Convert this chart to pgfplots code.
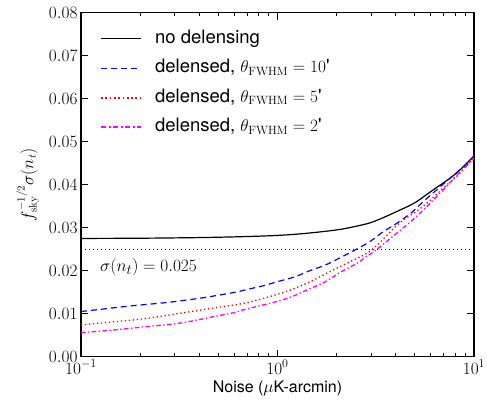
\documentclass[border=0pt]{standalone}
\usepackage[no-math]{fontspec}
\usepackage{pgfplots}
\pgfplotsset{compat=1.18}
\newfontfamily\hv{TeX Gyre Heros}
\definecolor{mplred}{rgb}{1,0,0}
\definecolor{mplmag}{rgb}{1,0,1}
\definecolor{mplblue}{rgb}{0,0,1}
\tikzset{
  sblack/.style={draw=black, line width=1.2pt},
  sblue/.style={draw=mplblue, line width=1.2pt, dash pattern=on 6pt off 4pt},
  sred/.style={draw=mplred, line width=1.3pt, dash pattern=on 1.3pt off 2.7pt},
  smag/.style={draw=mplmag, line width=1.3pt, dash pattern=on 4.5pt off 2.5pt on 1.3pt off 2.5pt},
}
\begin{document}
\begin{tikzpicture}
\begin{axis}[
  scale only axis, width=393pt, height=344pt,
  xmode=log, xmin=0.1, xmax=10, ymin=0, ymax=0.08,
  xtick={0.1,1,10},
  ytick={0,0.01,0.02,0.03,0.04,0.05,0.06,0.07,0.08},
  scaled y ticks=false,
  yticklabel style={/pgf/number format/fixed,/pgf/number format/fixed zerofill,/pgf/number format/precision=2},
  tick align=inside, major tick length=7pt, minor tick length=3.5pt,
  tick style={black, line width=0.8pt},
  axis line style={line width=1.2pt},
  ticklabel style={font=\fontsize{18}{20}\selectfont},
  xlabel={\hv Noise ($\mu$K-arcmin)},
  xlabel style={font=\fontsize{16}{18}\selectfont, at={(axis description cs:0.5,-0.091)}, anchor=center},
  ylabel={$f_{\mathrm{sky}}^{-1/2}\sigma(n_t)$},
  ylabel style={font=\fontsize{16}{18}\selectfont, at={(axis description cs:-0.136,0.5)}, anchor=center},
  legend style={draw=none, fill=none, at={(axis description cs:0.040,0.955)}, anchor=north west,
    font=\hv\fontsize{18.5}{20}\selectfont, column sep=13pt, row sep=12.5pt,
    nodes={inner sep=0pt, text height=13pt, text depth=4pt}},
  legend cell align=left,
]
\coordinate (SW) at (rel axis cs:0,0);
\coordinate (NE) at (rel axis cs:1,1);
\addplot[sblack, smooth, legend image code/.code={\draw[sblack] (0pt,0pt) -- (40pt,0pt);}] coordinates {
(0.1,0.0275) (0.2,0.02755) (0.4,0.0277) (0.644,0.0279) (1,0.0282) (1.41,0.0287) (2.08,0.0296) (2.84,0.0309) (3.32,0.0320) (4.2,0.0341) (5,0.0358) (6.2,0.0388) (7.55,0.0415) (8.6,0.0437) (10,0.0467)};
\addlegendentry{no delensing}
\addplot[sblue, smooth, legend image code/.code={\draw[sblue] (0pt,0pt) -- (40pt,0pt);}] coordinates {
(0.1,0.0105) (0.125,0.0110) (0.178,0.0118) (0.273,0.0126) (0.403,0.0136) (0.596,0.0149) (0.71,0.0157) (0.847,0.0165) (1.01,0.0175) (1.23,0.0186) (1.46,0.0200) (1.75,0.0213) (2.08,0.0230) (2.48,0.0248) (2.96,0.0268) (3.41,0.0289) (4.01,0.0309) (4.78,0.0334) (5.41,0.0357) (6.2,0.0381) (7,0.0402) (8,0.0425) (9,0.0445) (10,0.0466)};
\addlegendentry{delensed, $\theta_{\mathrm{FWHM}}=10$'}
\addplot[sred, smooth, legend image code/.code={\draw[draw=mplred, line width=1.7pt, dash pattern=on 1.7pt off 2.6pt] (0pt,0pt) -- (40pt,0pt);}] coordinates {
(0.1,0.0074) (0.146,0.0081) (0.216,0.0089) (0.319,0.0101) (0.471,0.0113) (0.67,0.0124) (0.916,0.0140) (1.16,0.0155) (1.46,0.0174) (1.85,0.0198) (2.34,0.0221) (2.84,0.0240) (3.22,0.0260) (4.2,0.0312) (5.1,0.0338) (5.86,0.0360) (7,0.0393) (8.16,0.0419) (9,0.0440) (10,0.0463)};
\addlegendentry{delensed, $\theta_{\mathrm{FWHM}}=5$'}
\addplot[smag, smooth, legend image code/.code={\draw[draw=mplmag, line width=2.2pt, dash pattern=on 5pt off 2.5pt on 2pt off 2.5pt] (0pt,0pt) -- (40pt,0pt);}] coordinates {
(0.1,0.0056) (0.146,0.0062) (0.216,0.0070) (0.319,0.0078) (0.471,0.0093) (0.608,0.0103) (0.67,0.0109) (0.95,0.0126) (1.16,0.0138) (1.41,0.0155) (1.75,0.0174) (2.12,0.0198) (2.58,0.0219) (2.82,0.0233) (3.07,0.0243) (3.66,0.0271) (5.1,0.0326) (6.98,0.0388) (8,0.0418) (9,0.0440) (10,0.0462)};
\addlegendentry{delensed, $\theta_{\mathrm{FWHM}}=2$'}
\addplot[black, line width=1.1pt, dash pattern=on 1.3pt off 2.7pt, forget plot] coordinates {(0.1,0.025) (10,0.025)};
\node[anchor=west, inner sep=0pt, font=\fontsize{19}{21}\selectfont] at (axis cs:0.125,0.0209) {$\sigma(n_t)=0.025$};
\end{axis}
\pgfresetboundingbox
\path ([shift={(-81pt,-46.3pt)}]SW) rectangle ([shift={(13pt,12.7pt)}]NE);
\end{tikzpicture}
\end{document}
